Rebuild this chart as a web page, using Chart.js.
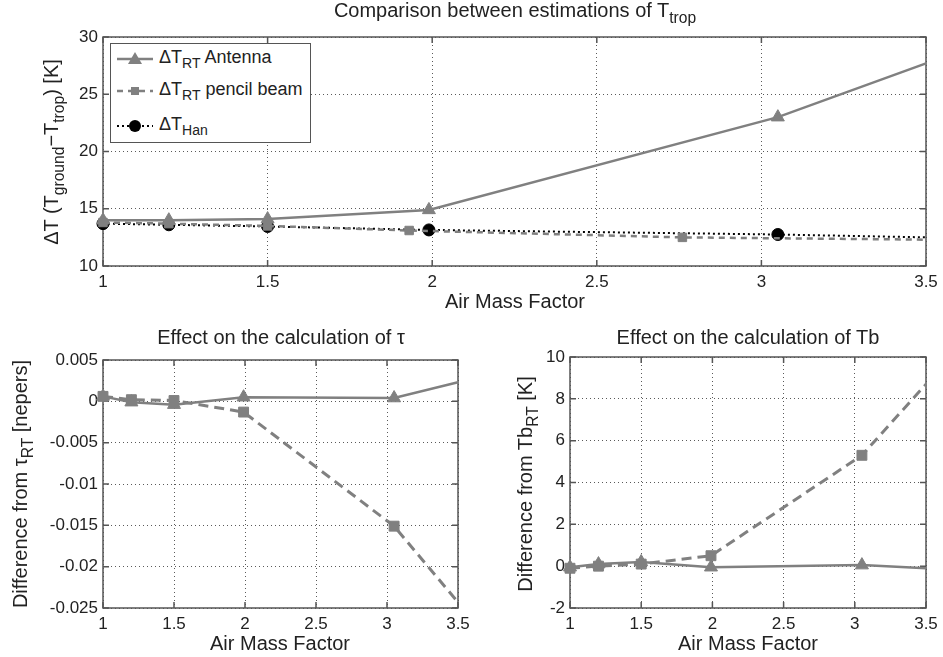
<!DOCTYPE html>
<html lang="en">
<head>
<meta charset="UTF-8">
<title>Comparison between estimations of Ttrop</title>
<script src="https://cdn.jsdelivr.net/npm/chart.js"></script>
<style>
    body { margin: 0; background: #fff; font-family: "Liberation Sans", Arial, sans-serif; color: #222; }
    #wrap { position: relative; width: 943px; height: 657px; overflow: hidden; }
    canvas { position: absolute; }
    .lbl { position: absolute; width: 600px; text-align: center; white-space: nowrap; font-size: 20px; line-height: 20px; height: 20px; }
    .rot { transform: rotate(-90deg); }
    sub { font-size: 0.78em; vertical-align: -0.38em; line-height: 0; }
    #legend { position: absolute; left: 110px; top: 43px; width: 199px; height: 98px; border: 1.5px solid #555; background: #fff; }
    .row { position: absolute; left: 6px; height: 20px; font-size: 18px; line-height: 20px; white-space: nowrap; }
    .row svg { position: absolute; left: 0; top: 3px; }
    .row span { position: absolute; left: 42px; top: -2px; }
</style>
</head>
<body>
<div id="wrap">
    <canvas id="topChart" width="943" height="292" style="left:0;top:0"></canvas>
    <canvas id="tauChart" width="470" height="320" style="left:0;top:330px"></canvas>
    <canvas id="tbChart" width="473" height="320" style="left:470px;top:330px"></canvas>

    <div class="lbl" style="left:215px;top:0">Comparison between estimations of T<sub>trop</sub></div>
    <div class="lbl" style="left:215px;top:291px">Air Mass Factor</div>
    <div class="lbl rot" style="left:-249px;top:142px">ΔT (T<sub>ground</sub>−T<sub>trop</sub>) [K]</div>

    <div class="lbl" style="left:-19px;top:327px">Effect on the calculation of τ</div>
    <div class="lbl" style="left:-20px;top:633px">Air Mass Factor</div>
    <div class="lbl rot" style="left:-280px;top:474px">Difference from τ<sub>RT</sub> [nepers]</div>

    <div class="lbl" style="left:448px;top:327px">Effect on the calculation of Tb</div>
    <div class="lbl" style="left:448px;top:633px">Air Mass Factor</div>
    <div class="lbl rot" style="left:225px;top:474px">Difference from Tb<sub>RT</sub> [K]</div>

    <div id="legend">
        <div class="row" style="top:5px">
            <svg width="38" height="14"><line x1="0" y1="7" x2="36" y2="7" stroke="#808080" stroke-width="2.5"/><polygon points="18,0 25,12 11,12" fill="#808080"/></svg>
            <span>ΔT<sub>RT</sub> Antenna</span>
        </div>
        <div class="row" style="top:37px">
            <svg width="38" height="14"><line x1="0" y1="7" x2="36" y2="7" stroke="#808080" stroke-width="2.5" stroke-dasharray="6,5"/><rect x="14" y="3" width="8" height="8" fill="#808080"/></svg>
            <span>ΔT<sub>RT</sub> pencil beam</span>
        </div>
        <div class="row" style="top:72px">
            <svg width="38" height="14"><line x1="0" y1="7" x2="36" y2="7" stroke="#000" stroke-width="2" stroke-dasharray="2,3"/><circle cx="18" cy="7" r="6" fill="#000"/></svg>
            <span>ΔT<sub>Han</sub></span>
        </div>
    </div>
</div>

<script>
// x ticks shared by all panels
const amfTicks = [1, 1.5, 2, 2.5, 3, 3.5];

// top panel: ΔT (Tground - Ttrop) [K]
const tropTicks = [10, 15, 20, 25, 30];
const amfAntenna = [1, 1.2, 1.5, 1.99, 3.05, 3.5];
const tropAntenna = [14.0, 14.0, 14.1, 14.9, 23.0, 27.7];
const amfPencilTop = [1, 1.2, 1.5, 1.93, 2.76, 3.5];
const tropPencil = [13.8, 13.7, 13.5, 13.1, 12.5, 12.3];
const amfHan = [1, 1.2, 1.5, 1.99, 3.05, 3.5];
const tropHan = [13.7, 13.6, 13.45, 13.15, 12.75, 12.5];

// bottom panels
const amfBottom = [1, 1.2, 1.5, 1.99, 3.05, 3.5];
const tauTicks = [0.005, 0, -0.005, -0.01, -0.015, -0.02, -0.025];
const tauAntenna = [0.0006, -0.0001, -0.0004, 0.0005, 0.0004, 0.0023];
const tauPencil = [0.0006, 0.0002, 0.0001, -0.0013, -0.0151, -0.0243];
const tbTicks = [-2, 0, 2, 4, 6, 8, 10];
const tbAntenna = [-0.05, 0.1, 0.2, -0.05, 0.05, -0.1];
const tbPencil = [-0.1, 0.0, 0.1, 0.5, 5.3, 8.7];

const GRAY = '#808080';
Chart.defaults.font.family = '"Liberation Sans", Arial, sans-serif';
Chart.defaults.color = '#222';

function pts(xs, ys) { return xs.map((x, i) => ({ x: x, y: ys[i] })); }
function fmt(v) { return String(Math.round(v * 10000) / 10000); }
// no marker on the last point of each curve
function lastless(r) { return c => c.dataIndex === c.dataset.data.length - 1 ? 0 : r; }

// box round the plot with inward tick marks, drawn under the data
const frame = {
    id: 'frame',
    beforeDatasetsDraw(chart) {
        const { ctx, chartArea: a, scales: { x, y } } = chart;
        ctx.save();
        ctx.strokeStyle = '#555';
        ctx.lineWidth = 1.5;
        ctx.beginPath();
        x.ticks.forEach(t => {
            const p = x.getPixelForValue(t.value);
            ctx.moveTo(p, a.bottom); ctx.lineTo(p, a.bottom - 6);
            ctx.moveTo(p, a.top); ctx.lineTo(p, a.top + 6);
        });
        y.ticks.forEach(t => {
            const p = y.getPixelForValue(t.value);
            ctx.moveTo(a.left, p); ctx.lineTo(a.left + 6, p);
            ctx.moveTo(a.right, p); ctx.lineTo(a.right - 6, p);
        });
        ctx.stroke();
        ctx.strokeRect(a.left, a.top, a.right - a.left, a.bottom - a.top);
        ctx.restore();
    }
};

function makeChart(id, datasets, area, yMin, yMax, yTicks) {
    const cv = document.getElementById(id);
    const grid = { color: '#5a5a5a', lineWidth: 1, drawTicks: false };
    const border = { display: false, dash: [1, 3] };
    return new Chart(cv, {
        type: 'line',
        data: { datasets: datasets },
        options: {
            responsive: false,
            animation: false,
            devicePixelRatio: 1,
            layout: { padding: { left: 0, top: area.top, right: cv.width - area.right, bottom: cv.height - area.bottom - 24 } },
            plugins: { legend: { display: false }, tooltip: { enabled: false } },
            scales: {
                x: {
                    type: 'linear', min: 1, max: 3.5,
                    afterBuildTicks: s => { s.ticks = amfTicks.map(v => ({ value: v })); },
                    afterFit: s => { s.height = 24; s.paddingLeft = 0; s.paddingRight = 0; },
                    grid: grid, border: border,
                    ticks: { padding: 6, font: { size: 17 }, color: '#222', callback: fmt, maxRotation: 0, autoSkip: false }
                },
                y: {
                    type: 'linear', min: yMin, max: yMax,
                    afterBuildTicks: s => { s.ticks = yTicks.slice().sort((a, b) => a - b).map(v => ({ value: v })); },
                    afterFit: s => { s.width = area.left; s.paddingTop = 0; s.paddingBottom = 0; },
                    grid: grid, border: border,
                    ticks: { padding: 5, font: { size: 17 }, color: '#222', callback: fmt, autoSkip: false }
                }
            }
        },
        plugins: [frame]
    });
}

function antennaSet(data, r) {
    return { data: data, borderColor: GRAY, backgroundColor: GRAY, borderWidth: 2.5, pointStyle: 'triangle',
             pointRadius: lastless(r), pointBorderWidth: 1, tension: 0, clip: false };
}
function pencilSet(data, r, dash, w) {
    return { data: data, borderColor: GRAY, backgroundColor: GRAY, borderWidth: w, borderDash: dash, pointStyle: 'rect',
             pointRadius: lastless(r), pointBorderWidth: 1, tension: 0, clip: false };
}

makeChart('topChart', [
    antennaSet(pts(amfAntenna, tropAntenna), 7.5),
    pencilSet(pts(amfPencilTop, tropPencil), 6, [6, 5], 2.5),
    { data: pts(amfHan, tropHan), borderColor: '#000', backgroundColor: '#000', borderWidth: 2, borderDash: [2, 3],
      pointStyle: 'circle', pointRadius: lastless(6), pointBorderWidth: 1, tension: 0, clip: false }
], { left: 103, top: 37, right: 926, bottom: 266 }, 10, 30, tropTicks);

makeChart('tauChart', [
    antennaSet(pts(amfBottom, tauAntenna), 7.5),
    pencilSet(pts(amfBottom, tauPencil), 7, [10, 6], 3)
], { left: 103, top: 30, right: 458, bottom: 278 }, -0.025, 0.005, tauTicks);

makeChart('tbChart', [
    antennaSet(pts(amfBottom, tbAntenna), 7.5),
    pencilSet(pts(amfBottom, tbPencil), 7, [10, 6], 3)
], { left: 100, top: 27, right: 456, bottom: 278 }, -2, 10, tbTicks);
</script>
</body>
</html>
